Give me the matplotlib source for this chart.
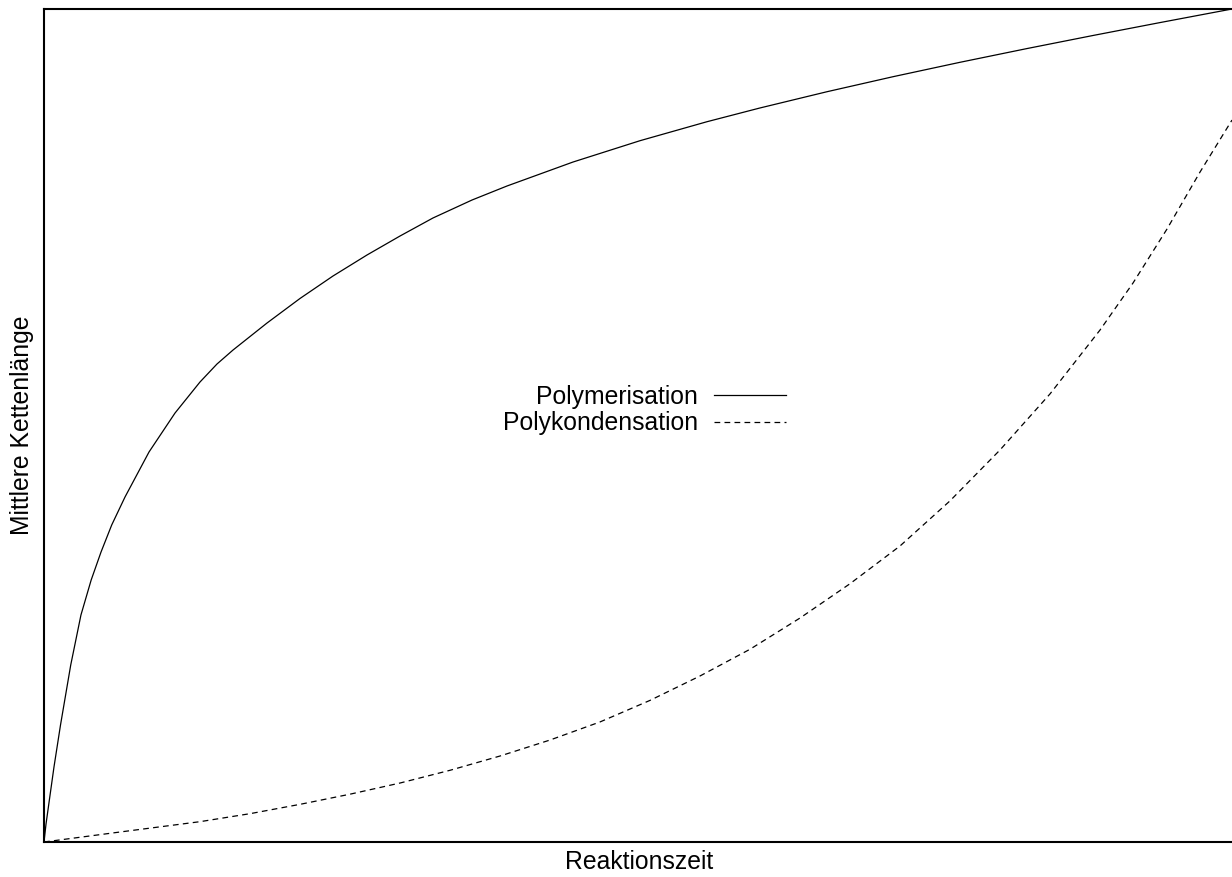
#!/usr/bin/env python3
import matplotlib

matplotlib.use("Agg")
import matplotlib.pyplot as plt

# Reaktionszeit (0..100) and mittlere Kettenlänge (0..100)
poly_t = [0.0, 0.17, 0.51, 0.84, 1.39, 2.25, 3.11, 3.97, 4.80, 5.70, 6.82,
          8.84, 11.03, 13.13, 14.56, 15.91, 18.77, 21.55, 24.33, 27.19, 29.97,
          32.74, 36.03, 38.97, 41.75, 44.53, 50.17, 55.81, 60.27, 65.91, 71.46,
          77.10, 82.74, 88.30, 93.94, 100.0]
poly_y = [0.0, 2.16, 5.64, 9.00, 14.05, 21.25, 27.25, 31.45, 34.81, 38.06, 41.42,
          46.82, 51.50, 55.22, 57.38, 59.06, 62.30, 65.25, 67.95, 70.47, 72.75,
          74.91, 77.07, 78.75, 80.19, 81.63, 84.19, 86.47, 88.12, 90.07, 91.87,
          93.60, 95.25, 96.82, 98.37, 100.0]

kond_t = [0.0, 6.40, 13.13, 17.34, 21.55, 25.76, 29.97, 34.18, 38.38, 42.59,
          46.80, 51.01, 55.22, 59.43, 63.64, 67.85, 72.05, 76.26, 80.47, 84.68,
          88.89, 91.67, 94.53, 97.31, 100.0]
kond_y = [0.0, 1.20, 2.44, 3.40, 4.52, 5.74, 7.08, 8.61, 10.32, 12.24,
          14.41, 17.00, 19.93, 23.14, 26.89, 31.01, 35.53, 40.95, 47.06, 53.79,
          61.46, 67.11, 73.59, 80.43, 86.67]

labels = ["Polymerisation", "Polykondensation"]

plt.rcParams["font.family"] = ["Liberation Sans", "DejaVu Sans"]

W, H = 1232, 877
fig = plt.figure(figsize=(W / 100, H / 100), dpi=100)
left, right, top, bottom = 44, 1234, 9, 842
ax = fig.add_axes([left / W, 1 - bottom / H, (right - left) / W, (bottom - top) / H])

ax.plot(poly_t, poly_y, color="black", lw=0.9, label=labels[0])
ax.plot(kond_t, kond_y, color="black", lw=0.9, linestyle=(0, (4.6, 3.4)),
        label=labels[1])

ax.set_xlim(0, 100 * (right - left) / (1232 - left))
ax.set_ylim(0, 100)
ax.set_xticks([])
ax.set_yticks([])
for sp in ax.spines.values():
    sp.set_linewidth(1.5)

fs = 17.8
ax.set_xlabel("Reaktionszeit", fontsize=fs, labelpad=6)
ax.set_ylabel("Mittlere Kettenlänge", fontsize=fs, labelpad=7)

ax.legend(loc="center right", bbox_to_anchor=(786 / W, 1 - 410 / H),
          bbox_transform=fig.transFigure, frameon=False, markerfirst=False,
          fontsize=fs, handlelength=2.9, handletextpad=0.65,
          borderpad=0, borderaxespad=0, labelspacing=0.1)

fig.savefig("out.png", dpi=100)
